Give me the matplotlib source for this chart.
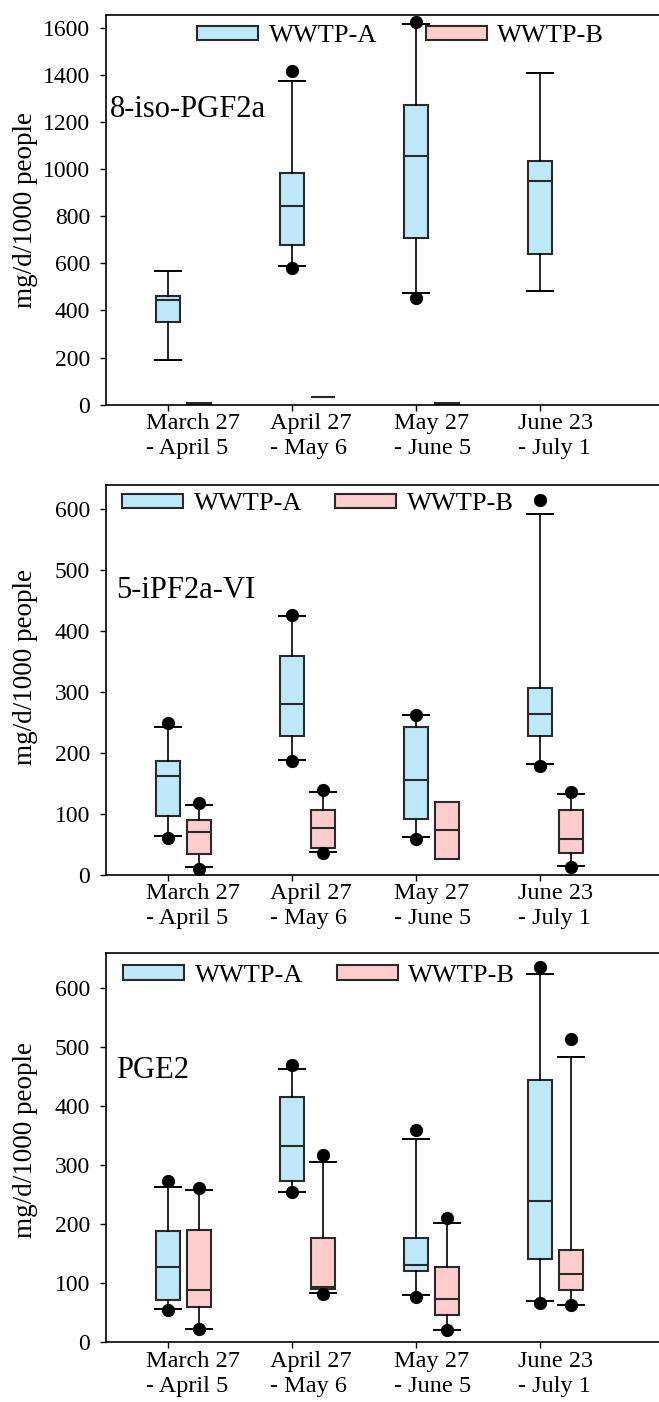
import matplotlib
matplotlib.use('Agg')
import matplotlib.pyplot as plt
from matplotlib.patches import Patch

plt.rcParams['font.family'] = ['Liberation Serif', 'DejaVu Serif']

# sampling periods
periods = ['March 27\n- April 5', 'April 27\n- May 6', 'May 27\n- June 5', 'June 23\n- July 1']
pos = [1, 2, 3, 4]

# each box: [whisker low, q1, median, q3, whisker high]
# 8-iso-PGF2a
iso_a = [[188, 350, 446, 462, 566], [590, 677, 843, 983, 1373],
         [473, 706, 1054, 1273, 1616], [484, 640, 948, 1034, 1407]]
iso_a_out = [[], [580, 1415], [451, 1626], []]
iso_b = [[1, 1, 5, 9, 9], [35, 35, 35, 35, 35], [1, 1, 3, 6, 6], None]
iso_b_out = [[], [], [], []]

# 5-iPF2a-VI
ipf_a = [[63, 96, 162, 186, 242], [189, 227, 281, 359, 425],
         [62, 92, 156, 242, 262], [181, 227, 264, 306, 592]]
ipf_a_out = [[60, 249], [187, 427], [58, 263], [178, 615]]
ipf_b = [[13, 34, 70, 90, 115], [38, 44, 76, 107, 136],
         [26, 26, 73, 120, 120], [14, 35, 58, 107, 133]]
ipf_b_out = [[10, 118], [35, 139], [], [13, 135]]

# PGE2
pge_a = [[56, 72, 128, 189, 264], [255, 273, 332, 415, 464],
         [80, 120, 131, 177, 344], [70, 142, 240, 445, 625]]
pge_a_out = [[55, 273], [254, 470], [77, 359], [67, 637]]
pge_b = [[23, 60, 89, 190, 258], [84, 90, 93, 177, 305],
         [20, 46, 73, 128, 203], [64, 88, 115, 156, 484]]
pge_b_out = [[23, 261], [81, 318], [20, 210], [63, 514]]

col_a = '#bde8fa'
col_b = '#ffcccc'
edge = '#2a2a2a'

fig = plt.figure(figsize=(6.59, 14.02), dpi=100)


def boxes(ax, data, outs, offset, color):
    stats, where, caps = [], [], []
    for p, s, f in zip(pos, data, outs):
        if s is None:
            continue
        stats.append(dict(whislo=s[0], q1=s[1], med=s[2], q3=s[3], whishi=s[4], fliers=f))
        where.append(p + offset)
        caps.append(0.0 if (s[0] == s[1] and s[3] == s[4]) else 0.21)
    ax.bxp(stats, positions=where, widths=0.19, patch_artist=True, capwidths=caps,
           manage_ticks=False,
           boxprops=dict(facecolor=color, edgecolor=edge, linewidth=1.5),
           medianprops=dict(color=edge, linewidth=1.5),
           whiskerprops=dict(color='black', linewidth=1.2),
           capprops=dict(color='black', linewidth=1.4),
           flierprops=dict(marker='o', markerfacecolor='black', markeredgecolor='black',
                           markersize=8.5))


def panel(rect, a, a_out, b, b_out, ymax, yticks, name, name_xy, ylab_y, leg_x, leg_y, colsp):
    ax = fig.add_axes(rect)
    boxes(ax, a, a_out, 0.0, col_a)
    boxes(ax, b, b_out, 0.25, col_b)
    ax.set_xlim(0.5, 4.96)
    ax.set_ylim(0, ymax)
    ax.set_yticks(yticks)
    ax.set_xticks(pos)
    ax.set_xticklabels([])
    # period labels: left aligned, starting a bit left of each tick
    for p, lab in zip(pos, periods):
        ax.annotate(lab, xy=(p, 0), xycoords=('data', 'axes fraction'),
                    xytext=(-15.5, -6), textcoords='offset points',
                    ha='left', va='top', fontsize=17.5, linespacing=1.25,
                    annotation_clip=False)
    ax.tick_params(axis='y', direction='out', length=4.5, width=1, labelsize=17, pad=7)
    ax.tick_params(axis='x', direction='out', length=4, width=1)
    ax.spines['right'].set_visible(False)
    for s in ['left', 'bottom', 'top']:
        ax.spines[s].set_linewidth(1.2)
    ax.set_ylabel('mg/d/1000 people', fontsize=19.5)
    ax.yaxis.set_label_coords(-0.123, ylab_y)
    ax.text(name_xy[0], name_xy[1], name, transform=ax.transAxes, fontsize=22,
            ha='left', va='baseline')
    handles = [Patch(facecolor=col_a, edgecolor=edge, linewidth=1.5),
               Patch(facecolor=col_b, edgecolor=edge, linewidth=1.5)]
    ax.legend(handles, ['WWTP-A', 'WWTP-B'], loc='center left', bbox_to_anchor=(leg_x, leg_y),
              ncol=2, frameon=False, fontsize=19, handlelength=2.31, handleheight=0.45,
              handletextpad=0.4, columnspacing=colsp, borderpad=0, borderaxespad=0)
    return ax


left, width = 106 / 659, 553 / 659
panel([left, 0.7113, width, 0.2780], iso_a, iso_a_out, iso_b, iso_b_out,
      1654, range(0, 1601, 200), '8-iso-PGF2a', (0.007, 0.739), 0.5, 0.165, 0.946, 1.84)
panel([left, 0.3761, width, 0.2780], ipf_a, ipf_a_out, ipf_b, ipf_b_out,
      640, range(0, 601, 100), '5-iPF2a-VI', (0.018, 0.71), 0.533, 0.029, 0.951, 1.27)
panel([left, 0.0426, width, 0.2777], pge_a, pge_a_out, pge_b, pge_b_out,
      660, range(0, 601, 100), 'PGE2', (0.018, 0.679), 0.52, 0.031, 0.941, 1.27)

fig.savefig('out.png', dpi=100)
